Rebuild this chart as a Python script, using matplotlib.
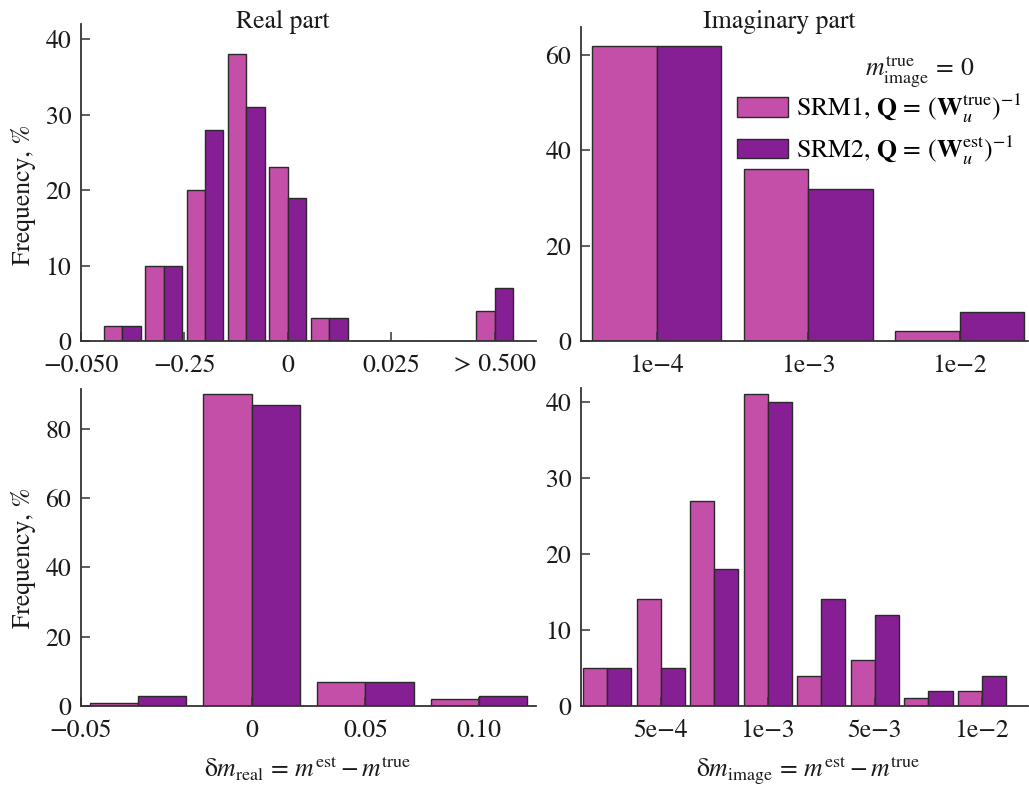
import matplotlib.pyplot as plt
from matplotlib.patches import Patch
import numpy as np

plt.rcParams['font.family'] = ['STIXGeneral', 'DejaVu Serif']
plt.rcParams['mathtext.fontset'] = 'stix'

# real part, m_image^true = 0 (top left), last bin is "> 0.500"
real_top_srm1 = [2, 10, 20, 38, 23, 3, 0, 0, 0, 4]
real_top_srm2 = [2, 10, 28, 31, 19, 3, 0, 0, 0, 7]
real_top_ticks = [-1, 1.5, 4, 6.5, 9]
real_top_labels = ['\u22120.050', '\u22120.25', '0', '0.025', '> 0.500']

# imaginary part (top right)
imag_top_srm1 = [62, 36, 2]
imag_top_srm2 = [62, 32, 6]
imag_top_ticks = [0, 1, 2]
imag_top_labels = ['1e\u22124', '1e\u22123', '1e\u22122']

# real part (bottom left)
real_bot_srm1 = [1, 90, 7, 2]
real_bot_srm2 = [3, 87, 7, 3]
real_bot_ticks = [-0.5, 1, 2, 3]
real_bot_labels = ['\u22120.05', '0', '0.05', '0.10']

# imaginary part (bottom right)
imag_bot_srm1 = [5, 14, 27, 41, 4, 6, 1, 2]
imag_bot_srm2 = [5, 5, 18, 40, 14, 12, 2, 4]
imag_bot_ticks = [1, 3, 5, 7]
imag_bot_labels = ['5e\u22124', '1e\u22123', '5e\u22123', '1e\u22122']

PINK = '#c44fa8'
PURPLE = '#861e94'
EDGE = '#2a2a2a'
FS = 18.5
W, H = 1029, 788


def draw(rect, v1, v2, w, xlim, ylim, yticks, xticks, xlabels):
    ax = fig.add_axes(rect)
    x = np.arange(len(v1))
    ax.bar(x - w / 2, v1, w, color=PINK, edgecolor=EDGE, linewidth=1.0)
    ax.bar(x + w / 2, v2, w, color=PURPLE, edgecolor=EDGE, linewidth=1.0)
    ax.set_xlim(*xlim)
    ax.set_ylim(*ylim)
    ax.set_yticks(yticks)
    ax.set_xticks(xticks)
    ax.set_xticklabels(xlabels)
    for s in ['top', 'right']:
        ax.spines[s].set_visible(False)
    for s in ['left', 'bottom']:
        ax.spines[s].set_color('#333333')
        ax.spines[s].set_linewidth(1.3)
    ax.tick_params(direction='in', length=6.5, width=1.1, color='#333333',
                   labelsize=FS, labelcolor='#1a1a1a')
    ax.tick_params(axis='x', pad=9)
    ax.tick_params(axis='y', pad=7)
    return ax


def px(x0, y0, x1, y1):
    return [x0 / W, 1 - y1 / H, (x1 - x0) / W, (y1 - y0) / H]


fig = plt.figure(figsize=(10.29, 7.88), dpi=100)

ax1 = draw(px(81, 24, 536, 341), real_top_srm1, real_top_srm2, 0.445,
           (-1, 10), (0, 42), [0, 10, 20, 30, 40], real_top_ticks, real_top_labels)
ax2 = draw(px(581, 27, 1028, 341), imag_top_srm1, imag_top_srm2, 0.425,
           (-0.5, 2.45), (0, 65.9), [0, 20, 40, 60], imag_top_ticks, imag_top_labels)
ax3 = draw(px(81, 389, 536, 706), real_bot_srm1, real_bot_srm2, 0.425,
           (-0.485, 3.5), (0, 91.5), [0, 20, 40, 60, 80], real_bot_ticks, real_bot_labels)
ax4 = draw(px(581, 388, 1028, 706), imag_bot_srm1, imag_bot_srm2, 0.45,
           (-0.49, 7.86), (0, 41.8), [0, 10, 20, 30, 40], imag_bot_ticks, imag_bot_labels)

fig.text(283 / W, 1 - 22 / H, 'Real part', ha='center', va='center', fontsize=FS, color='#1a1a1a')
fig.text(779 / W, 1 - 22 / H, 'Imaginary part', ha='center', va='center', fontsize=FS, color='#1a1a1a')

fig.text(24 / W, 1 - 195 / H, 'Frequency, %', rotation=90, ha='center', va='center', fontsize=FS, color='#1a1a1a')
fig.text(24 / W, 1 - 558 / H, 'Frequency, %', rotation=90, ha='center', va='center', fontsize=FS, color='#1a1a1a')

fig.text(308 / W, 1 - 777 / H, '\u03b4$m_{\\rm real} \\,=\\, m^{\\rm est} - m^{\\rm true}$',
         ha='center', va='baseline', fontsize=FS, color='#1a1a1a')
fig.text(808 / W, 1 - 777 / H, '\u03b4$m_{\\rm image} \\,=\\, m^{\\rm est} - m^{\\rm true}$',
         ha='center', va='baseline', fontsize=FS, color='#1a1a1a')

fig.text(920 / W, 1 - 76 / H, '$m_{\\rm image}^{\\rm true} \\,=\\, 0$',
         ha='center', va='baseline', fontsize=FS, color='#1a1a1a')

handles = [Patch(facecolor=PINK, edgecolor=EDGE), Patch(facecolor=PURPLE, edgecolor=EDGE)]
labels = ['SRM1, $\\mathbf{Q} \\,=\\, (\\mathbf{W}_u^{\\rm true})^{-1}$',
          'SRM2, $\\mathbf{Q} \\,=\\, (\\mathbf{W}_u^{\\rm est})^{-1}$']
ax2.legend(handles, labels, loc='upper left', bbox_to_anchor=(737 / W, 1 - 92 / H),
           bbox_transform=fig.transFigure, frameon=False, borderpad=0, borderaxespad=0,
           handlelength=2.0, handleheight=0.8, handletextpad=0.3, labelspacing=0.3,
           fontsize=FS)

fig.savefig('out.png', dpi=100)
